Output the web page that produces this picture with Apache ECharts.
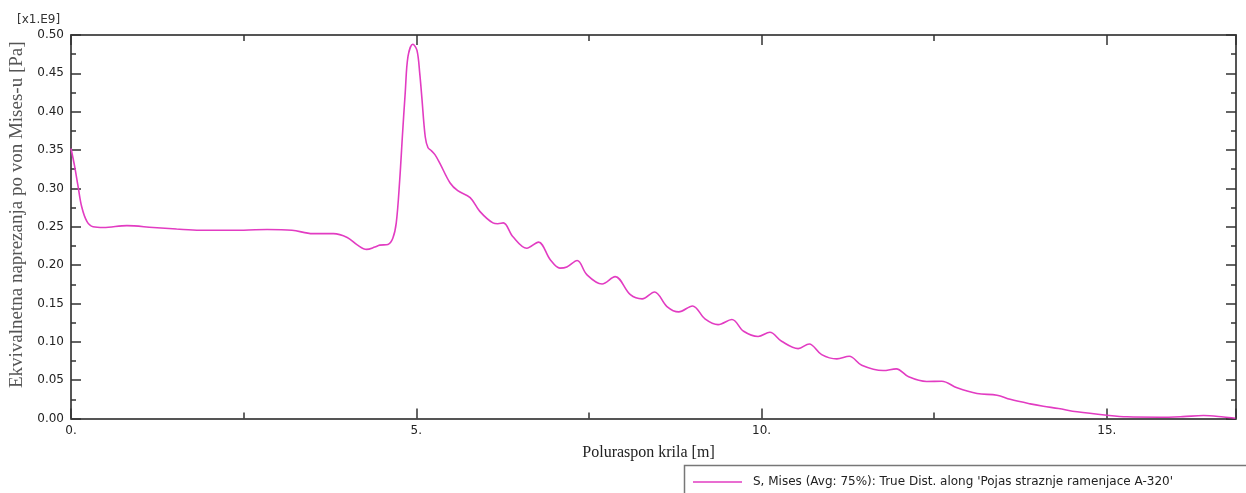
<!DOCTYPE html>
<html>
<head>
<meta charset="utf-8">
<script src="https://cdn.jsdelivr.net/npm/echarts@6/dist/echarts.min.js"></script>
<style>
html,body{margin:0;padding:0;background:#fff;}
#chart{width:1246px;height:493px;}
</style>
</head>
<body>
<div id="chart"></div>
<script>
// Distance along spar [m]
const distance = [0.00,0.05,0.10,0.155,0.23,0.32,0.47,0.81,1.19,1.53,1.87,2.5,2.84,3.2,3.5,3.8,4.0,4.15,4.28,4.40,4.47,4.59,4.66,4.71,4.76,4.80,4.84,4.88,4.95,5.01,5.05,5.08,5.13,5.17,5.22,5.27,5.34,5.49,5.6,5.78,5.92,6.11,6.18,6.26,6.40,6.60,6.77,6.94,7.08,7.18,7.33,7.47,7.69,7.88,8.10,8.27,8.45,8.63,8.80,9.00,9.18,9.37,9.57,9.74,9.95,10.12,10.29,10.53,10.69,10.87,11.09,11.27,11.45,11.76,11.95,12.13,12.39,12.61,12.83,13.12,13.41,13.60,13.89,14.08,14.30,14.57,15.0,15.29,15.77,16.10,16.40,16.69,16.86];
// von Mises stress [x1.E9 Pa]
const stress = [0.352,0.330,0.304,0.276,0.257,0.250,0.249,0.2515,0.249,0.247,0.2455,0.2455,0.2465,0.2455,0.241,0.241,0.236,0.226,0.2205,0.2235,0.226,0.227,0.235,0.255,0.311,0.370,0.425,0.472,0.488,0.480,0.450,0.419,0.367,0.353,0.349,0.344,0.333,0.307,0.297,0.288,0.270,0.255,0.254,0.255,0.237,0.222,0.230,0.207,0.196,0.1975,0.206,0.1875,0.1753,0.185,0.1615,0.156,0.165,0.146,0.139,0.1467,0.130,0.1224,0.129,0.1137,0.107,0.1124,0.1007,0.0911,0.0972,0.0833,0.0777,0.0811,0.0694,0.0625,0.0647,0.0543,0.0482,0.0486,0.040,0.0326,0.0304,0.0250,0.0191,0.016,0.013,0.0087,0.0043,0.0022,0.0017,0.0025,0.0039,0.002,0.0003];
const seriesName = "S, Mises (Avg: 75%): True Dist. along 'Pojas straznje ramenjace A-320'";
const xTitle = "Poluraspon krila [m]";
const yTitle = "Ekvivalnetna naprezanja po von Mises-u [Pa]";
const yScaleNote = "[x1.E9]";

const X_MAX = 16.87;
const axisColor = '#555';
const lineColor = '#e23cc2';

const chart = echarts.init(document.getElementById('chart'), null, {renderer:'canvas'});
const pts = distance.map((d,i)=>[d, stress[i]]);

const baseX = {
  type:'value', min:0, max:X_MAX, splitLine:{show:false},
  axisLine:{show:true, onZero:false, lineStyle:{color:axisColor, width:2}},
};
chart.setOption({
  animation:false,
  backgroundColor:'#fff',
  grid:{left:71, right:10, top:35, bottom:74.5, containLabel:false, outerBoundsMode:'none'},
  legend:{
    left:693, top:476, padding:0, itemWidth:49, itemHeight:14,
    textStyle:{fontFamily:'DejaVu Sans', fontSize:12, color:'#222', padding:[0,0,0,6]},
    data:[{name:seriesName, icon:'path://M0,0 L49,0 L49,1.6 L0,1.6 Z', itemStyle:{color:lineColor}}]
  },
  xAxis:[
    Object.assign({}, baseX, {
      position:'bottom', interval:5,
      name:xTitle, nameLocation:'middle', nameGap:26,
      nameTextStyle:{fontFamily:'Liberation Serif', fontSize:16, color:'#222', padding:[0,10,0,0]},
      axisTick:{show:true, inside:true, length:10, lineStyle:{color:'#333', width:1.5}},
      axisLabel:{show:true, margin:6, fontFamily:'DejaVu Sans', fontSize:12, color:'#222',
        formatter:v=> (Math.abs(v % 5) < 1e-9 ? v + '.' : '')}
    }),
    Object.assign({}, baseX, {
      position:'bottom', interval:2.5,
      axisLine:{show:false, onZero:false},
      axisTick:{show:true, inside:true, length:6, lineStyle:{color:'#333', width:1.5}},
      axisLabel:{show:false}
    }),
    Object.assign({}, baseX, {
      position:'top', interval:5,
      axisTick:{show:true, inside:true, length:10, lineStyle:{color:'#333', width:1.5}},
      axisLabel:{show:false}
    }),
    Object.assign({}, baseX, {
      position:'top', interval:2.5,
      axisLine:{show:false, onZero:false},
      axisTick:{show:true, inside:true, length:6, lineStyle:{color:'#333', width:1.5}},
      axisLabel:{show:false}
    })
  ],
  yAxis:[
    {
      type:'value', position:'left', min:0, max:0.5, interval:0.05,
      name:yTitle, nameLocation:'middle', nameGap:42, nameRotate:90,
      nameTextStyle:{fontFamily:'Liberation Serif', fontSize:19, color:'#555', padding:[0,0,0,24]},
      splitLine:{show:false},
      axisLine:{show:true, onZero:false, lineStyle:{color:axisColor, width:2}},
      axisTick:{show:true, inside:true, length:10, lineStyle:{color:'#333', width:1.5}},
      minorTick:{show:true, splitNumber:2, length:5, lineStyle:{color:'#333', width:1.5}},
      axisLabel:{margin:7, fontFamily:'DejaVu Sans', fontSize:12, color:'#222', formatter:v=>v.toFixed(2)}
    },
    {
      type:'value', position:'right', min:0, max:0.5, interval:0.05,
      splitLine:{show:false},
      axisLine:{show:true, onZero:false, lineStyle:{color:axisColor, width:2}},
      axisTick:{show:true, inside:true, length:10, lineStyle:{color:'#333', width:1.5}},
      minorTick:{show:true, splitNumber:2, length:5, lineStyle:{color:'#333', width:1.5}},
      axisLabel:{show:false}
    }
  ],
  graphic:[
    {type:'text', left:17, top:14, style:{text:yScaleNote, fontFamily:'DejaVu Sans', fontSize:12, fill:'#333'}},
    {type:'polyline', shape:{points:[[684.5,493],[684.5,465.5],[1246,465.5]]}, style:{stroke:'#777', lineWidth:1.5, fill:null}}
  ],
  series:[{
    name:seriesName, type:'line', xAxisIndex:0, yAxisIndex:0,
    data:pts, showSymbol:false, symbol:'none', smooth:0.35,
    lineStyle:{color:lineColor, width:1.6}, itemStyle:{color:lineColor}
  }]
});
</script>
</body>
</html>
